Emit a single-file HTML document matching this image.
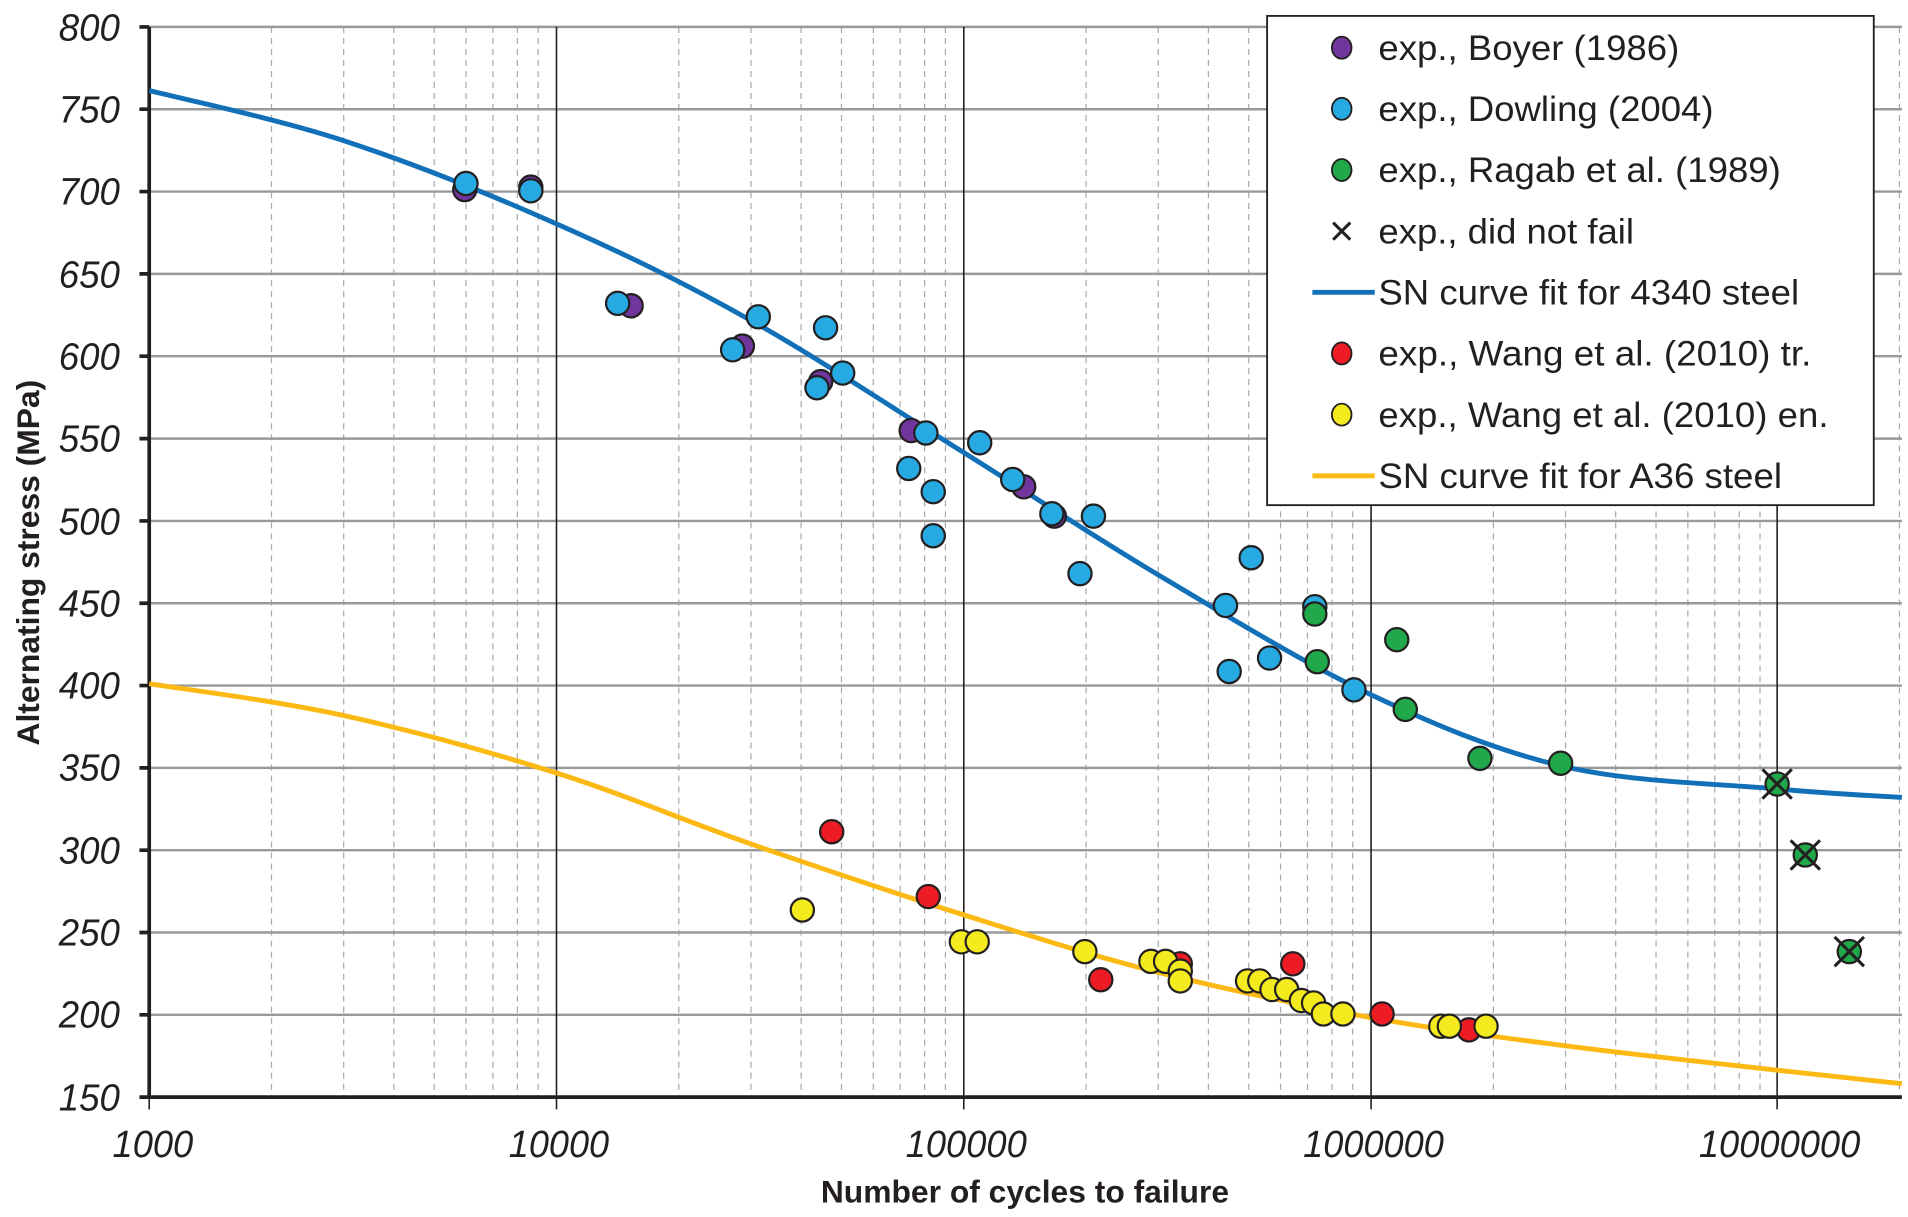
<!DOCTYPE html>
<html><head><meta charset="utf-8"><style>
html,body{margin:0;padding:0;background:#fff;}
svg{display:block}
text{font-family:"Liberation Sans",sans-serif;fill:#231f20}
.tk{font-size:31px;font-style:italic}
.lg{font-size:29px}
</style></head><body>
<svg width="1908" height="1217" viewBox="0 0 1560 995" preserveAspectRatio="none">
<rect width="1560" height="995" fill="#fff"/>
<g stroke="#aaa" stroke-width="1" stroke-dasharray="5,4">
<path d="M222 22V897M281 22V897M322 22V897M355 22V897M381 22V897M403 22V897M423 22V897M440 22V897
M555 22V897M614 22V897M655 22V897M688 22V897M714 22V897M736 22V897M756 22V897M773 22V897
M888 22V897M947 22V897M988 22V897M1021 22V897M1047 22V897M1069 22V897M1089 22V897M1106 22V897
M1221 22V897M1280 22V897M1321 22V897M1354 22V897M1380 22V897M1402 22V897M1422 22V897M1439 22V897M1553 22V897"/>
</g>
<g stroke="#999" stroke-width="2">
<path d="M122 22H1555M122 89.3H1555M122 156.6H1555M122 223.9H1555M122 291.2H1555M122 358.6H1555M122 425.9H1555M122 493.2H1555M122 560.5H1555M122 627.8H1555M122 695.1H1555M122 762.4H1555M122 829.7H1555"/>
</g>
<g stroke="#231f20" stroke-width="1.3">
<path d="M455 22V907M788 22V907M1121 22V907M1453 22V907M122 897V907"/>
</g>
<path d="M122 22V897H1555" stroke="#231f20" stroke-width="3" fill="none"/>
<g stroke="#231f20" stroke-width="3">
<path d="M114 22H122M114 89.3H122M114 156.6H122M114 223.9H122M114 291.2H122M114 358.6H122M114 425.9H122M114 493.2H122M114 560.5H122M114 627.8H122M114 695.1H122M114 762.4H122M114 829.7H122M114 897H122"/>
</g>
<g text-anchor="end">
<text class="tk" x="98" y="33" textLength="50" lengthAdjust="spacingAndGlyphs">800</text><text class="tk" x="98" y="100" textLength="50" lengthAdjust="spacingAndGlyphs">750</text><text class="tk" x="98" y="167" textLength="50" lengthAdjust="spacingAndGlyphs">700</text><text class="tk" x="98" y="235" textLength="50" lengthAdjust="spacingAndGlyphs">650</text><text class="tk" x="98" y="302" textLength="50" lengthAdjust="spacingAndGlyphs">600</text><text class="tk" x="98" y="369" textLength="50" lengthAdjust="spacingAndGlyphs">550</text><text class="tk" x="98" y="437" textLength="50" lengthAdjust="spacingAndGlyphs">500</text><text class="tk" x="98" y="504" textLength="50" lengthAdjust="spacingAndGlyphs">450</text><text class="tk" x="98" y="571" textLength="50" lengthAdjust="spacingAndGlyphs">400</text><text class="tk" x="98" y="638" textLength="50" lengthAdjust="spacingAndGlyphs">350</text><text class="tk" x="98" y="706" textLength="50" lengthAdjust="spacingAndGlyphs">300</text><text class="tk" x="98" y="773" textLength="50" lengthAdjust="spacingAndGlyphs">250</text><text class="tk" x="98" y="840" textLength="50" lengthAdjust="spacingAndGlyphs">200</text><text class="tk" x="98" y="908" textLength="50" lengthAdjust="spacingAndGlyphs">150</text>
</g>
<g text-anchor="middle">
<text class="tk" x="125" y="946" textLength="66" lengthAdjust="spacingAndGlyphs">1000</text><text class="tk" x="457" y="946" textLength="82" lengthAdjust="spacingAndGlyphs">10000</text><text class="tk" x="790" y="946" textLength="99" lengthAdjust="spacingAndGlyphs">100000</text><text class="tk" x="1123" y="946" textLength="115" lengthAdjust="spacingAndGlyphs">1000000</text><text class="tk" x="1455" y="946" textLength="132" lengthAdjust="spacingAndGlyphs">10000000</text>
</g>
<text x="838" y="983" text-anchor="middle" font-size="26" font-weight="bold">Number of cycles to failure</text>
<text transform="translate(32,460) rotate(-90)" text-anchor="middle" font-size="26" font-weight="bold">Alternating stress (MPa)</text>

<path d="M122 74C148.5 80.8 225.5 96.8 281 115C336.5 133.2 399.5 158.5 455 183C510.5 207.5 558.5 230.8 614 262C669.5 293.2 732.5 335.3 788 370C843.5 404.7 891.5 437 947 470C1002.5 503 1065.5 541.8 1121 568C1176.5 594.2 1224.7 614.2 1280 627C1335.3 639.8 1407.2 640.8 1453 645C1498.8 649.2 1538 650.8 1555 652" stroke="#1170b8" stroke-width="4" fill="none"/>
<path d="M122 559C148.5 563.3 225.5 572.8 281 585C336.5 597.2 399.5 614.5 455 632C510.5 649.5 558.5 670.7 614 690C669.5 709.3 732.5 730.5 788 748C843.5 765.5 891.5 781 947 795C1002.5 809 1065.5 822 1121 832C1176.5 842 1224.7 847.8 1280 855C1335.3 862.2 1407.2 869.8 1453 875C1498.8 880.2 1538 884.2 1555 886" stroke="#fdb913" stroke-width="4" fill="none"/>

<g stroke="#231f20" stroke-width="1.8">
<g fill="#70369d">
<circle cx="380" cy="155" r="9.5"/><circle cx="434" cy="153" r="9.5"/><circle cx="516" cy="250" r="9.5"/><circle cx="607" cy="283" r="9.5"/><circle cx="671" cy="312" r="9.5"/><circle cx="745" cy="352" r="9.5"/><circle cx="837" cy="398" r="9.5"/><circle cx="862" cy="422" r="9.5"/>
</g>
<g fill="#27aae1">
<circle cx="381" cy="150" r="9.5"/><circle cx="434" cy="156" r="9.5"/><circle cx="505" cy="248" r="9.5"/><circle cx="620" cy="259" r="9.5"/><circle cx="599" cy="286" r="9.5"/><circle cx="675" cy="268" r="9.5"/><circle cx="668" cy="317" r="9.5"/><circle cx="689" cy="305" r="9.5"/><circle cx="743" cy="383" r="9.5"/><circle cx="757" cy="354" r="9.5"/><circle cx="763" cy="402" r="9.5"/><circle cx="763" cy="438" r="9.5"/><circle cx="801" cy="362" r="9.5"/><circle cx="828" cy="392" r="9.5"/><circle cx="860" cy="420" r="9.5"/><circle cx="894" cy="422" r="9.5"/><circle cx="883" cy="469" r="9.5"/><circle cx="1002" cy="495" r="9.5"/><circle cx="1023" cy="456" r="9.5"/><circle cx="1005" cy="549" r="9.5"/><circle cx="1038" cy="538" r="9.5"/><circle cx="1075" cy="496" r="9.5"/><circle cx="1107" cy="564" r="9.5"/>
</g>
<g fill="#20a84a">
<circle cx="1075" cy="502" r="9.5"/><circle cx="1077" cy="541" r="9.5"/><circle cx="1142" cy="523" r="9.5"/><circle cx="1149" cy="580" r="9.5"/><circle cx="1210" cy="620" r="9.5"/><circle cx="1276" cy="624" r="9.5"/><circle cx="1453" cy="641" r="9.5"/><circle cx="1476" cy="699" r="9.5"/><circle cx="1512" cy="778" r="9.5"/>
</g>
<g fill="#ed1c24">
<circle cx="680" cy="680" r="9.5"/><circle cx="759" cy="733" r="9.5"/><circle cx="900" cy="801" r="9.5"/><circle cx="965" cy="788" r="9.5"/><circle cx="1057" cy="788" r="9.5"/><circle cx="1130" cy="829" r="9.5"/><circle cx="1201" cy="842" r="9.5"/>
</g>
<g fill="#f4eb1e">
<circle cx="656" cy="744" r="9.5"/><circle cx="786" cy="770" r="9.5"/><circle cx="799" cy="770" r="9.5"/><circle cx="887" cy="778" r="9.5"/><circle cx="941" cy="786" r="9.5"/><circle cx="953" cy="786" r="9.5"/><circle cx="965" cy="794" r="9.5"/><circle cx="965" cy="802" r="9.5"/><circle cx="1020" cy="802" r="9.5"/><circle cx="1030" cy="802" r="9.5"/><circle cx="1040" cy="809" r="9.5"/><circle cx="1052" cy="809" r="9.5"/><circle cx="1064" cy="818" r="9.5"/><circle cx="1074" cy="820" r="9.5"/><circle cx="1082" cy="829" r="9.5"/><circle cx="1098" cy="829" r="9.5"/><circle cx="1178" cy="839" r="9.5"/><circle cx="1185" cy="839" r="9.5"/><circle cx="1215" cy="839" r="9.5"/>
</g>
</g>
<g stroke="#231f20" stroke-width="2.5">
<path d="M1441 629L1465 653M1465 629L1441 653M1464 687L1488 711M1488 687L1464 711M1500 766L1524 790M1524 766L1500 790"/>
</g>

<rect x="1036" y="13" width="496" height="400" fill="#fff" stroke="#231f20" stroke-width="1.5"/>
<g stroke="#231f20" stroke-width="1.5">
<ellipse cx="1097" cy="39" rx="8" ry="9" fill="#70369d"/>
<ellipse cx="1097" cy="89" rx="8" ry="9" fill="#27aae1"/>
<ellipse cx="1097" cy="139" rx="8" ry="9" fill="#20a84a"/>
<ellipse cx="1097" cy="289" rx="8" ry="9" fill="#ed1c24"/>
<ellipse cx="1097" cy="339" rx="8" ry="9" fill="#f4eb1e"/>
</g>
<path d="M1090 182L1104 196M1104 182L1090 196" stroke="#231f20" stroke-width="2.5"/>
<path d="M1073 239H1124" stroke="#1170b8" stroke-width="4"/>
<path d="M1073 389H1124" stroke="#fdb913" stroke-width="4"/>
<text class="lg" x="1127" y="49" textLength="246" lengthAdjust="spacingAndGlyphs">exp., Boyer (1986)</text>
<text class="lg" x="1127" y="99" textLength="274" lengthAdjust="spacingAndGlyphs">exp., Dowling (2004)</text>
<text class="lg" x="1127" y="149" textLength="329" lengthAdjust="spacingAndGlyphs">exp., Ragab et al. (1989)</text>
<text class="lg" x="1127" y="199" textLength="209" lengthAdjust="spacingAndGlyphs">exp., did not fail</text>
<text class="lg" x="1127" y="249" textLength="344" lengthAdjust="spacingAndGlyphs">SN curve fit for 4340 steel</text>
<text class="lg" x="1127" y="299" textLength="354" lengthAdjust="spacingAndGlyphs">exp., Wang et al. (2010) tr.</text>
<text class="lg" x="1127" y="349" textLength="368" lengthAdjust="spacingAndGlyphs">exp., Wang et al. (2010) en.</text>
<text class="lg" x="1127" y="399" textLength="330" lengthAdjust="spacingAndGlyphs">SN curve fit for A36 steel</text>
</svg>
</body></html>
